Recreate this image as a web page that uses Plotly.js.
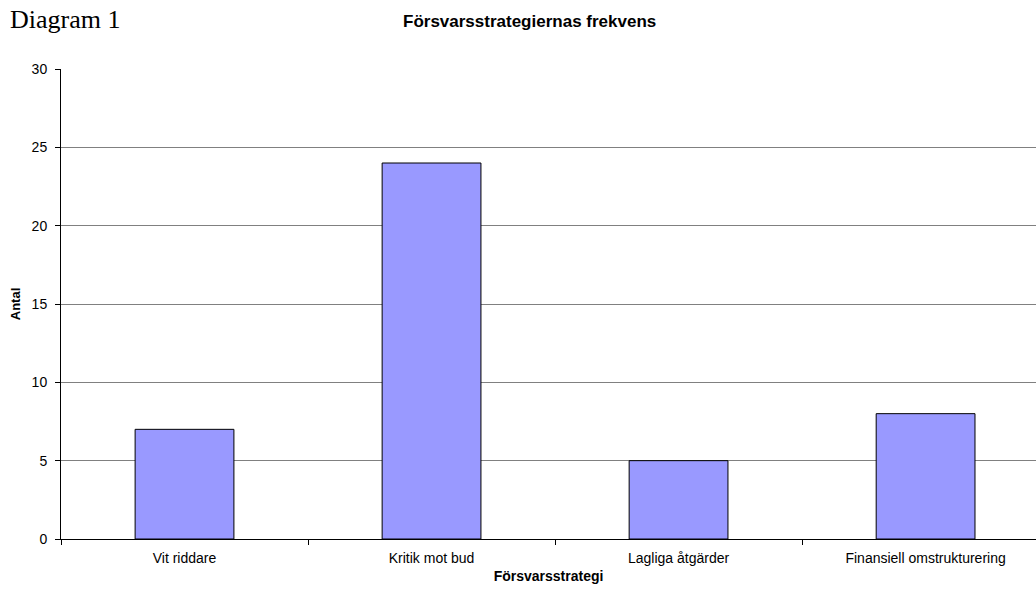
<!DOCTYPE html>
<html>
<head>
<meta charset="utf-8">
<script src="https://cdn.plot.ly/plotly-3.0.1.min.js"></script>
<style>html,body{margin:0;padding:0;background:#fff;}#chart{width:1036px;height:590px;}</style>
</head>
<body>
<div id="chart"></div>
<script>
const categories = ["Vit riddare", "Kritik mot bud", "Lagliga åtgärder", "Finansiell omstrukturering"];
const antal = [7, 24, 5, 8];
const yTicks = [0, 5, 10, 15, 20, 25, 30];

const trace = {
  type: 'bar',
  x: categories,
  y: antal,
  width: 0.4,
  marker: {color: '#9999FF', line: {color: '#000000', width: 1}},
  hoverinfo: 'none'
};

const layout = {
  width: 1036, height: 590,
  margin: {l: 61, r: 0, t: 69, b: 51, pad: 0},
  paper_bgcolor: '#ffffff', plot_bgcolor: '#ffffff',
  font: {family: 'Liberation Sans, Arial, sans-serif', size: 14, color: '#000'},
  showlegend: false,
  xaxis: {
    type: 'category',
    range: [-0.5, 3.447],
    showgrid: false,
    showline: true, linecolor: '#000', linewidth: 1,
    ticks: 'outside', ticklen: 5, tickcolor: '#000', tickson: 'boundaries',
    tickfont: {size: 14},
    ticklabelstandoff: 6,
    title: {text: '<b>Försvarsstrategi</b>', font: {size: 14}, standoff: 6},
    fixedrange: true, zeroline: false
  },
  yaxis: {
    range: [0, 30],
    tickvals: yTicks,
    showgrid: true, gridcolor: '#808080', gridwidth: 1,
    showline: true, linecolor: '#000', linewidth: 1,
    ticks: 'outside', ticklen: 5, tickcolor: '#000',
    tickfont: {size: 14},
    ticklabelstandoff: 5,
    zeroline: false,
    title: {text: '<b>Antal</b>', font: {size: 13}, standoff: 8},
    fixedrange: true
  },
  annotations: [
    {text: 'Diagram 1', xref: 'paper', yref: 'paper', x: -53/975, xanchor: 'left', y: 1, yshift: 69 - 3, yanchor: 'top',
     showarrow: false, font: {family: 'Liberation Serif, Times New Roman, serif', size: 26, color: '#000'}},
    {text: '<b>Försvarsstrategiernas frekvens</b>', xref: 'paper', yref: 'paper', x: (529-61)/975, xanchor: 'center',
     y: 1, yshift: 48, yanchor: 'middle', showarrow: false, font: {size: 17, color: '#000'}}
  ]
};

Plotly.newPlot('chart', [trace], layout, {staticPlot: true, displayModeBar: false});
</script>
</body>
</html>
